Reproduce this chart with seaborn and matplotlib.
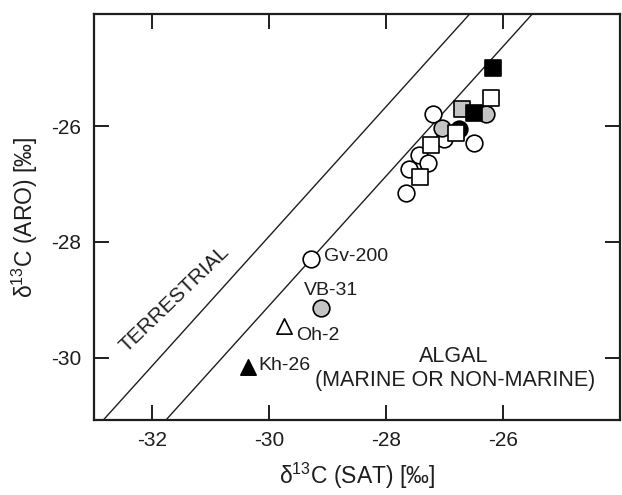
import matplotlib
matplotlib.use("Agg")
import matplotlib.pyplot as plt
import seaborn as sns
import pandas as pd

# delta13C of saturate (SAT) and aromatic (ARO) fractions, per mille
open_circle_sat = [-27.20, -27.01, -26.50, -27.44, -27.29, -27.61, -27.66, -29.28]
open_circle_aro = [-25.79, -26.22, -26.30, -26.50, -26.64, -26.75, -27.15, -28.29]
gray_circle_sat = [-26.30, -27.04, -29.11]
gray_circle_aro = [-25.79, -26.03, -29.15]
black_circle_sat = [-26.75]
black_circle_aro = [-26.05]
open_square_sat = [-26.21, -26.81, -27.24, -27.42]
open_square_aro = [-25.52, -26.12, -26.32, -26.88]
gray_square_sat = [-26.70]
gray_square_aro = [-25.71]
black_square_sat = [-26.18, -26.50]
black_square_aro = [-24.99, -25.78]
open_triangle_sat = [-29.75]
open_triangle_aro = [-29.46]
black_triangle_sat = [-30.37]
black_triangle_aro = [-30.16]

# labelled samples: name, SAT, ARO of the label anchor
sample_names = ["Gv-200", "VB-31", "Oh-2", "Kh-26"]
sample_label_sat = [-29.06, -29.41, -29.55, -30.18]
sample_label_aro = [-28.26, -28.84, -29.62, -30.14]

# boundary lines  ARO = slope * SAT + intercept
line_slope = 1.12
terrestrial_intercept = 5.70
algal_intercept = 4.50

x_ticks = [-32, -30, -28, -26]
y_ticks = [-30, -28, -26]

sns.set_theme(style="ticks")
plt.rcParams["font.family"] = ["Liberation Sans", "DejaVu Sans"]
plt.rcParams["mathtext.default"] = "regular"

ink = "#1e1e1e"
gray = "#c4c4c4"

groups = [
    ("open circle", open_circle_sat, open_circle_aro, "o", "white", 12),
    ("gray circle", gray_circle_sat, gray_circle_aro, "o", gray, 12),
    ("black circle", black_circle_sat, black_circle_aro, "o", "black", 12),
    ("open square", open_square_sat, open_square_aro, "s", "white", 12),
    ("gray square", gray_square_sat, gray_square_aro, "s", gray, 12),
    ("black square", black_square_sat, black_square_aro, "s", "black", 12),
    ("open triangle", open_triangle_sat, open_triangle_aro, "^", "white", 11),
    ("black triangle", black_triangle_sat, black_triangle_aro, "^", "black", 11),
]

rows = []
for name, xs, ys, *_ in groups:
    for x, y in zip(xs, ys):
        rows.append({"group": name, "SAT": x, "ARO": y})
df = pd.DataFrame(rows)

fig = plt.figure(figsize=(6.22, 4.95), dpi=100)
ax = fig.add_axes([0.151, 0.1515, 0.846, 0.8205])

ax.axline((0, terrestrial_intercept), slope=line_slope, color=ink, lw=1.0, zorder=1)
ax.axline((0, algal_intercept), slope=line_slope, color=ink, lw=1.0, zorder=1)

for i, (name, xs, ys, marker, face, size) in enumerate(groups):
    sub = df[df["group"] == name]
    sns.scatterplot(data=sub, x="SAT", y="ARO", marker=marker, color=face,
                    edgecolor="black", linewidth=1.2, s=size ** 2,
                    ax=ax, zorder=3 + i, legend=False)

for name, x, y in zip(sample_names, sample_label_sat, sample_label_aro):
    ax.text(x, y, name, fontsize=14, ha="left", va="center", color=ink)

ax.text(-31.63, -28.98, "TERRESTRIAL", fontsize=15, rotation=44,
        ha="center", va="center", color=ink, rotation_mode="anchor")
ax.text(-26.84, -29.99, "ALGAL", fontsize=15.5, ha="center", va="center", color=ink)
ax.text(-26.82, -30.39, "(MARINE OR NON-MARINE)", fontsize=15.5,
        ha="center", va="center", color=ink)

ax.set_xlim(-33.0, -24.0)
ax.set_ylim(-31.08, -24.06)
ax.set_xticks(x_ticks)
ax.set_yticks(y_ticks)
ax.set_xticklabels([str(t) for t in x_ticks])
ax.set_yticklabels([str(t) for t in y_ticks])
ax.tick_params(direction="in", length=11, width=1.4, labelsize=15,
               top=True, right=True, colors=ink, pad=8)
ax.tick_params(axis="y", pad=9)
for sp in ax.spines.values():
    sp.set_linewidth(1.6)
    sp.set_color(ink)

ax.set_xlabel("δ$^{13}$C (SAT) [‰]", fontsize=16.5, color=ink, labelpad=8)
ax.set_ylabel("δ$^{13}$C (ARO) [‰]", fontsize=16.5, color=ink, labelpad=8)

fig.savefig("out.png", dpi=100)
